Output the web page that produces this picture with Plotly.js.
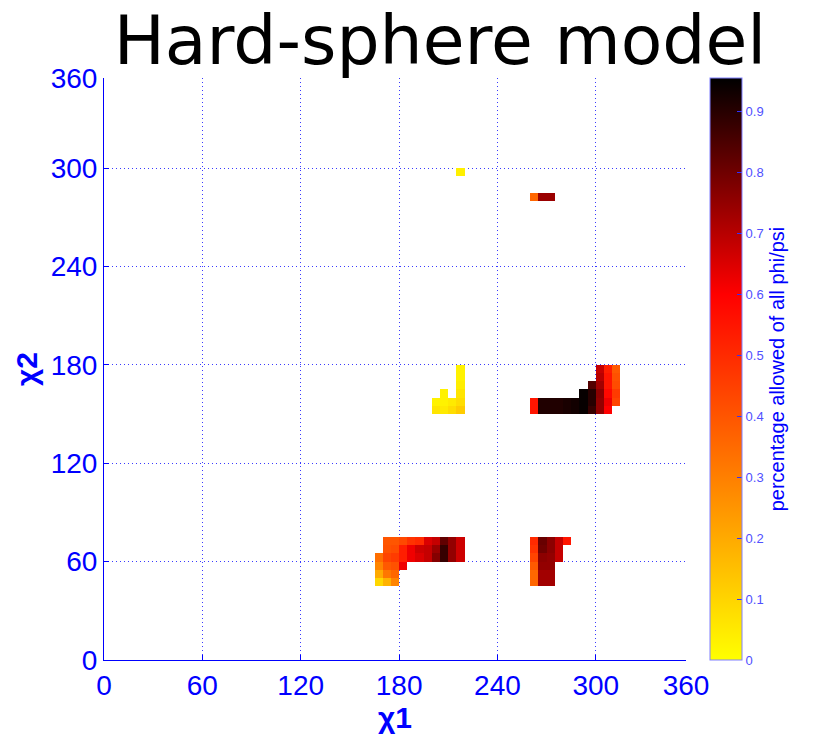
<!DOCTYPE html>
<html>
<head>
<meta charset="utf-8">
<script src="https://cdn.plot.ly/plotly-3.0.1.min.js"></script>
<style>html,body{margin:0;padding:0;background:#fff;}#chart{width:814px;height:739px;}</style>
</head>
<body>
<div id="chart"></div>
<script>
// Allowed fraction per (chi1, chi2) 5-degree bin. Each row: chi2 bin centre, first chi1 bin centre, values.
const rowChi2   = [47.5, 52.5, 57.5, 62.5, 67.5, 72.5,
                   47.5, 52.5, 57.5, 62.5, 67.5, 72.5,
                   152.5, 157.5, 162.5, 162.5, 167.5, 172.5, 177.5,
                   152.5, 157.5, 162.5, 167.5, 172.5, 177.5,
                   282.5, 297.5];
const rowChi1Start = [167.5, 167.5, 167.5, 167.5, 172.5, 172.5,
                      262.5, 262.5, 262.5, 262.5, 262.5, 262.5,
                      202.5, 202.5, 207.5, 217.5, 217.5, 217.5, 217.5,
                      262.5, 262.5, 292.5, 297.5, 302.5, 302.5,
                      262.5, 217.5];
const rowFrac = [
  [0.095, 0.18, 0.29],
  [0.20, 0.32, 0.36],
  [0.29, 0.39, 0.41, 0.62],
  [0.34, 0.44, 0.46, 0.53, 0.62, 0.65, 0.68, 0.77, 0.88, 0.75, 0.67],
  [0.41, 0.42, 0.53, 0.62, 0.67, 0.68, 0.74, 0.88, 0.75, 0.67],
  [0.40, 0.40, 0.43, 0.48, 0.50, 0.65, 0.68, 0.82, 0.75, 0.67],
  [0.36, 0.73, 0.73],
  [0.36, 0.73, 0.73],
  [0.39, 0.75, 0.75],
  [0.44, 0.76, 0.75, 0.68],
  [0.48, 0.80, 0.76, 0.68],
  [0.50, 0.81, 0.76, 0.68, 0.55],
  [0.06, 0.05, 0.08, 0.12],
  [0.03, 0.03, 0.05, 0.08],
  [0.03],
  [0.06],
  [0.04],
  [0.03],
  [0.03],
  [0.55, 0.91, 0.91, 0.91, 0.92, 0.93, 0.945, 0.88, 0.75, 0.60],
  [0.55, 0.91, 0.91, 0.91, 0.92, 0.93, 0.945, 0.90, 0.75, 0.62, 0.44],
  [0.945, 0.90, 0.76, 0.58, 0.46],
  [0.84, 0.73, 0.55, 0.42],
  [0.70, 0.55, 0.41],
  [0.68, 0.53, 0.39],
  [0.36, 0.74, 0.74],
  [0.035]
];
const tickVals = [0, 60, 120, 180, 240, 300, 355];
const tickText = ['0', '60', '120', '180', '240', '300', '360'];
const cbTicks = [0, 0.1, 0.2, 0.3, 0.4, 0.5, 0.6, 0.7, 0.8, 0.9];

// build grid of bin centres
const binW = 5;
const centres = [];
for (let c = binW / 2; c < 355; c += binW) centres.push(c);
const z = centres.map(() => centres.map(() => null));
rowChi2.forEach((yc, i) => {
  const yi = centres.indexOf(yc);
  rowFrac[i].forEach((v, k) => {
    const xi = centres.indexOf(rowChi1Start[i] + k * binW);
    z[yi][xi] = v;
  });
});

const blue = '#0000ff';
const data = [{
  type: 'heatmap',
  x: centres, y: centres, z: z,
  zmin: 0, zmax: 0.955,
  colorscale: [[0, '#ffff00'], [0.628, '#ff0000'], [1, '#000000']],
  hoverongaps: false,
  colorbar: {
    x: (710 - 104) / 582, xanchor: 'left', xpad: 0,
    y: 0, yanchor: 'bottom', ypad: 0,
    lenmode: 'fraction', len: 1, thickness: 32,
    outlinewidth: 1, outlinecolor: '#8080ff',
    tickvals: cbTicks, ticks: 'inside', ticklen: 5, tickcolor: '#3030ff',
    tickfont: {family: 'Liberation Sans', size: 13, color: '#5050ff'},
    title: {text: 'percentage allowed of all phi/psi', side: 'right',
            font: {family: 'Liberation Sans', size: 20, color: blue}}
  }
}];

const axisCommon = {
  range: [0, 355], tickvals: tickVals, ticktext: tickText,
  showgrid: true, gridcolor: '#3a3aff', griddash: '1px,3px', gridwidth: 1,
  zeroline: false, showline: true, linecolor: blue, linewidth: 1, mirror: false,
  ticks: 'inside', ticklen: 5, tickcolor: blue,
  tickfont: {family: 'Liberation Sans', size: 28, color: blue},
  fixedrange: true
};

const layout = {
  width: 814, height: 739,
  paper_bgcolor: '#ffffff', plot_bgcolor: '#ffffff',
  margin: {l: 104, r: 128, t: 78, b: 79},
  title: {text: 'Hard-sphere model', x: 0.5405, xanchor: 'center', xref: 'container',
          y: 1 - 40 / 739, yanchor: 'middle', yref: 'container',
          font: {family: 'DejaVu Sans', size: 68, color: '#000000'}},
  xaxis: Object.assign({}, axisCommon, {
    title: {text: 'χ1', standoff: 6, font: {family: 'Liberation Sans', size: 30, color: blue, weight: 'bold'}}
  }),
  yaxis: Object.assign({}, axisCommon, {
    title: {text: 'χ2', standoff: 4, font: {family: 'Liberation Sans', size: 30, color: blue, weight: 'bold'}}
  }),
  showlegend: false
};

Plotly.newPlot('chart', data, layout, {displayModeBar: false, staticPlot: true});
</script>
</body>
</html>
